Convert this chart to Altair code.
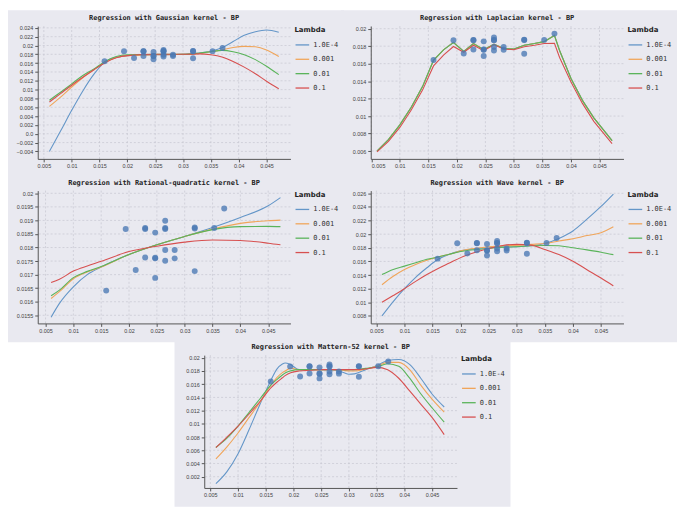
import altair as alt
import pandas as pd

# ---------------- data ----------------
LAMBDAS = ["1.0E-4", "0.001", "0.01", "0.1"]
COLORS = ["#6496c8", "#f0a55a", "#5ab45a", "#d75050"]

pt_x = [0.0159, 0.0194, 0.0212, 0.0229, 0.0229, 0.0229, 0.0247, 0.0247, 0.0247, 0.0247, 0.0265,
        0.0265, 0.0265, 0.0265, 0.0265, 0.0282, 0.0282, 0.0318, 0.0318, 0.0318, 0.0353, 0.0371]
pt_y = [0.01641, 0.01868, 0.01717, 0.01872, 0.01868, 0.01763, 0.01855, 0.01762, 0.01760, 0.01688, 0.01899,
        0.01872, 0.01868, 0.01791, 0.01751, 0.01791, 0.01760, 0.01874, 0.01870, 0.01713, 0.01872, 0.01944]

x_ticks = [0.005, 0.01, 0.015, 0.02, 0.025, 0.03, 0.035, 0.04, 0.045]

# Gaussian kernel
gauss_x = [0.006, 0.008, 0.010, 0.012, 0.014, 0.016, 0.018, 0.020, 0.025, 0.030, 0.033, 0.035,
           0.037, 0.039, 0.041, 0.043, 0.045, 0.0472]
gauss_l4 = [-0.0040, 0.0006, 0.0053, 0.0097, 0.0135, 0.0163, 0.0173, 0.0177, 0.0179, 0.0180, 0.0183, 0.0187,
            0.0195, 0.0209, 0.0223, 0.0231, 0.0235, 0.0230]
gauss_l3 = [0.0062, 0.0083, 0.0106, 0.0127, 0.0145, 0.0162, 0.0173, 0.0177, 0.0179, 0.0180, 0.0182, 0.0186,
            0.0190, 0.01955, 0.0198, 0.0197, 0.0190, 0.0175]
gauss_l2 = [0.0076, 0.0094, 0.0113, 0.0132, 0.0147, 0.0164, 0.0175, 0.0179, 0.0180, 0.0180, 0.0183, 0.0186,
            0.0189, 0.0186, 0.0179, 0.0168, 0.0153, 0.0134]
gauss_l1 = [0.0072, 0.0091, 0.0110, 0.0128, 0.0145, 0.0161, 0.0172, 0.0177, 0.0180, 0.0180, 0.0181, 0.0179,
            0.0174, 0.0164, 0.0151, 0.0136, 0.0119, 0.0102]
gauss_yticks = [-0.004, -0.002, 0.0, 0.002, 0.004, 0.006, 0.008, 0.01, 0.012, 0.014, 0.016, 0.018,
                0.02, 0.022, 0.024]

# Laplacian kernel
lap_x = [0.006, 0.008, 0.010, 0.012, 0.014, 0.0159, 0.0177, 0.0194, 0.0212, 0.0229, 0.0247, 0.0265,
         0.0282, 0.0300, 0.0318, 0.0336, 0.0353, 0.0371, 0.0380, 0.0400, 0.0420, 0.0440, 0.0472]
lap_l4 = [0.0060, 0.0073, 0.0090, 0.0110, 0.0134, 0.01640, 0.0176, 0.01845, 0.01741, 0.01832, 0.0176, 0.01825,
          0.01774, 0.01767, 0.0181, 0.0183, 0.01853, 0.01925, 0.0175, 0.0143, 0.0118, 0.0098, 0.0072]
lap_l3 = [0.0060, 0.0073, 0.0090, 0.0110, 0.0134, 0.01638, 0.0176, 0.01843, 0.01741, 0.01831, 0.0176, 0.01823,
          0.01774, 0.01767, 0.0181, 0.0183, 0.01852, 0.01923, 0.0175, 0.0143, 0.0118, 0.0098, 0.0072]
lap_l2 = [0.0060, 0.0073, 0.0090, 0.0110, 0.0134, 0.01637, 0.0176, 0.01841, 0.01741, 0.0183, 0.0176, 0.01822,
          0.01774, 0.01767, 0.0181, 0.0183, 0.01852, 0.01922, 0.0175, 0.0143, 0.0118, 0.0098, 0.0072]
lap_l1 = [0.0059, 0.0071, 0.0087, 0.0107, 0.0130, 0.01574, 0.0170, 0.01796, 0.0173, 0.01811, 0.01748, 0.01815,
          0.01767, 0.0176, 0.01793, 0.0181, 0.0183, 0.01833, 0.0167, 0.0139, 0.01145, 0.0094, 0.00685]
lap_yticks = [0.006, 0.008, 0.01, 0.012, 0.014, 0.016, 0.018, 0.02]

# Rational-quadratic kernel
rq_x = [0.006, 0.0075, 0.010, 0.0125, 0.015, 0.020, 0.025, 0.030, 0.035, 0.040, 0.045, 0.0472]
rq_l4 = [0.01543, 0.01594, 0.01655, 0.0170, 0.01728, 0.01774, 0.0181, 0.01841, 0.01874, 0.01911, 0.01954, 0.01984]
rq_l3 = [0.01612, 0.01637, 0.01685, 0.0171, 0.01728, 0.01774, 0.0181, 0.01841, 0.01868, 0.01889, 0.01899, 0.01901]
rq_l2 = [0.01622, 0.01643, 0.01689, 0.01712, 0.0173, 0.01774, 0.0181, 0.01841, 0.01866, 0.01877, 0.01878, 0.01877]
rq_l1 = [0.01671, 0.01683, 0.01713, 0.01732, 0.01749, 0.01785, 0.01805, 0.0182, 0.01828, 0.01826, 0.01816, 0.0181]
rq_yticks = [0.0155, 0.016, 0.0165, 0.017, 0.0175, 0.018, 0.0185, 0.019, 0.0195, 0.02]

# Wave kernel
wave_x = [0.006, 0.008, 0.010, 0.012, 0.014, 0.016, 0.018, 0.020, 0.025, 0.0275, 0.030, 0.0325,
          0.035, 0.0375, 0.040, 0.0425, 0.045, 0.0472]
wave_l4 = [0.0080, 0.0101, 0.0120, 0.01367, 0.01507, 0.01631, 0.01706, 0.01755, 0.0180, 0.0181, 0.01815, 0.0183,
           0.01864, 0.01938, 0.02047, 0.0222, 0.02407, 0.0259]
wave_l3 = [0.01258, 0.01382, 0.01482, 0.01556, 0.01616, 0.01666, 0.01706, 0.01755, 0.01815, 0.0183, 0.01835, 0.0185,
           0.01864, 0.0190, 0.01933, 0.0198, 0.02022, 0.0211]
wave_l2 = [0.01407, 0.01482, 0.01531, 0.01581, 0.01631, 0.01666, 0.01706, 0.01745, 0.0179, 0.0181, 0.01815, 0.0183,
           0.01835, 0.0183, 0.0180, 0.0177, 0.01736, 0.0170]
wave_l1 = [0.0100, 0.01099, 0.0120, 0.01307, 0.01407, 0.01497, 0.01576, 0.01656, 0.0179, 0.01835, 0.0185, 0.0184,
           0.01775, 0.01701, 0.01602, 0.01479, 0.01356, 0.01242]
wave_yticks = [0.008, 0.01, 0.012, 0.014, 0.016, 0.018, 0.02, 0.022, 0.024, 0.026]

# Mattern-52 kernel
mat_x = [0.006, 0.008, 0.010, 0.012, 0.014, 0.016, 0.017, 0.018, 0.0185, 0.0195, 0.021, 0.023, 0.025,
         0.027, 0.029, 0.030, 0.031, 0.033, 0.035, 0.037, 0.039, 0.041, 0.043, 0.045, 0.0472]
mat_l4 = [0.00094, 0.00277, 0.00548, 0.00914, 0.01305, 0.01671, 0.01828, 0.01906, 0.01922, 0.01896, 0.0182, 0.0182,
          0.0182, 0.0182, 0.01777, 0.01751, 0.01756, 0.0182, 0.0188, 0.0196, 0.01975, 0.01896, 0.01687, 0.01452, 0.01255]
mat_l3 = [0.0047, 0.00653, 0.00862, 0.01097, 0.01332, 0.01593, 0.0170, 0.01775, 0.0180, 0.01843, 0.0182, 0.0182,
          0.0182, 0.0182, 0.0181, 0.0180, 0.0180, 0.01829, 0.0187, 0.0193, 0.0193, 0.01818, 0.01583, 0.01374, 0.01177]
mat_l2 = [0.00642, 0.00783, 0.00966, 0.01175, 0.01384, 0.01593, 0.0167, 0.01739, 0.0177, 0.01802, 0.0182, 0.0182,
          0.0182, 0.0182, 0.0182, 0.0182, 0.0182, 0.01839, 0.0186, 0.0191, 0.0187, 0.01687, 0.01452, 0.01244, 0.01025]
mat_l1 = [0.00642, 0.0080, 0.00966, 0.01149, 0.01342, 0.01551, 0.0163, 0.01697, 0.0173, 0.01775, 0.0180, 0.0181,
          0.0182, 0.0182, 0.0182, 0.0182, 0.0182, 0.0183, 0.01855, 0.0182, 0.0169, 0.01494, 0.01296, 0.01098, 0.00837]
mat_yticks = [0.002, 0.004, 0.006, 0.008, 0.01, 0.012, 0.014, 0.016, 0.018, 0.02]

# ---------------- styling ----------------
BG = "#e9e9f0"
GRID = "#c6c6d0"
PT = "#4a78b4"
W, H = 255, 134
L, R, T, B = 30, 54, 16, 19
GAP = -3

pts_df = pd.DataFrame({"x": pt_x, "y": pt_y})


def panel(title, xs, series, xdom, ydom, yticks, interp):
    rows = []
    for lam, ys in zip(LAMBDAS, series):
        for xv, yv in zip(xs, ys):
            rows.append({"x": xv, "y": yv, "Lambda": lam})
    lines_df = pd.DataFrame(rows)

    xsc = alt.Scale(domain=xdom, nice=False, zero=False)
    ysc = alt.Scale(domain=ydom, nice=False, zero=False)
    common = dict(grid=False, title=None, zindex=1, tickSize=3, tickColor="#555", domainColor="#555",
                  labelColor="#444", labelFont="Liberation Sans", labelFontSize=5.5, labelPadding=2)
    xaxis = alt.Axis(values=x_ticks, format=".3~f", **common)
    yaxis = alt.Axis(values=yticks,
                     labelExpr="datum.value == 0 ? '0.0' : format(datum.value, '.4~f')", **common)

    bg = alt.Chart(alt.Data(values=[{"a": 1}])).mark_rect(color=BG).encode(
        x=alt.value(-L), x2=alt.value(W + R), y=alt.value(-T), y2=alt.value(H + B))
    hgrid = alt.Chart(pd.DataFrame({"v": yticks})).mark_rule(
        color=GRID, strokeDash=[2, 2], strokeWidth=0.7).encode(y=alt.Y("v:Q", scale=ysc, axis=yaxis))
    vgrid = alt.Chart(pd.DataFrame({"v": x_ticks})).mark_rule(
        color=GRID, strokeDash=[2, 2], strokeWidth=0.7).encode(x=alt.X("v:Q", scale=xsc, axis=xaxis))
    lines = alt.Chart(lines_df).mark_line(strokeWidth=1.1, interpolate=interp, clip=True).encode(
        x=alt.X("x:Q", scale=xsc, axis=xaxis),
        y=alt.Y("y:Q", scale=ysc, axis=yaxis),
        color=alt.Color("Lambda:N", sort=LAMBDAS,
                        scale=alt.Scale(domain=LAMBDAS, range=COLORS),
                        legend=alt.Legend(title="Lambda", orient="right", offset=4)),
    )
    pts = alt.Chart(pts_df).mark_circle(size=36, color=PT, opacity=0.78).encode(
        x=alt.X("x:Q", scale=xsc, axis=xaxis), y=alt.Y("y:Q", scale=ysc, axis=yaxis))
    return alt.layer(bg, hgrid, vgrid, lines, pts).properties(
        width=W, height=H,
        title=alt.TitleParams(title, font="DejaVu Sans Mono", fontSize=7, fontWeight="bold",
                              color="#222", offset=-11, anchor="middle"))


g = panel("Regression with Gaussian kernel - BP", gauss_x, [gauss_l4, gauss_l3, gauss_l2, gauss_l1],
          [0.0039, 0.0493], [-0.0057, 0.0244], gauss_yticks, "monotone")
lp = panel("Regression with Laplacian kernel - BP", lap_x, [lap_l4, lap_l3, lap_l2, lap_l1],
           [0.0049, 0.0492], [0.0051, 0.0203], lap_yticks, "linear")
rq = panel("Regression with Rational-quadratic kernel - BP", rq_x, [rq_l4, rq_l3, rq_l2, rq_l1],
           [0.0036, 0.0490], [0.0152, 0.0201], rq_yticks, "monotone")
wv = panel("Regression with Wave kernel - BP", wave_x, [wave_l4, wave_l3, wave_l2, wave_l1],
           [0.0040, 0.0490], [0.0069, 0.0264], wave_yticks, "monotone")
mt = panel("Regression with Mattern-52 kernel - BP", mat_x, [mat_l4, mat_l3, mat_l2, mat_l1],
           [0.0039, 0.0495], [0.0003, 0.0204], mat_yticks, "monotone")


def indep(c):
    return c.resolve_scale(color="independent", x="independent", y="independent").resolve_legend(
        color="independent")


top = indep(alt.hconcat(g, lp, spacing=GAP))
mid = indep(alt.hconcat(rq, wv, spacing=GAP))
chart = indep(alt.vconcat(top, mid, mt, spacing=GAP, center=True)).properties(
    padding=0, background="white"
).configure_view(stroke=None).configure_legend(
    symbolType="stroke", symbolSize=190, symbolStrokeWidth=1.3,
    labelFont="DejaVu Sans Mono", labelFontSize=7, labelColor="#333", labelOffset=3,
    titleFont="DejaVu Sans", titleFontSize=7, titleFontWeight="bold", titleColor="#222",
    titlePadding=4, rowPadding=3.5, padding=0
)

chart.save("out.html", embed_options={"renderer": "svg", "actions": False})
